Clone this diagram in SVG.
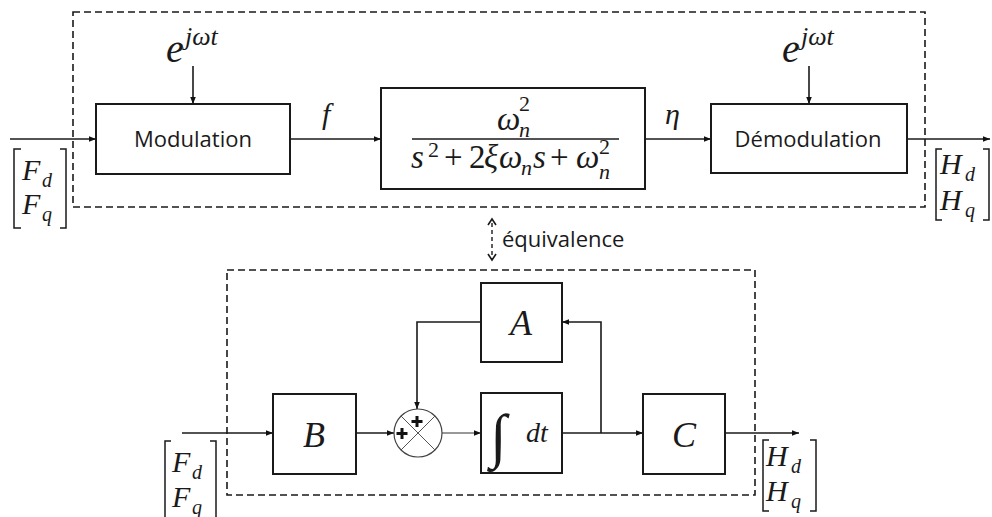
<svg xmlns="http://www.w3.org/2000/svg" width="992" height="517" viewBox="0 0 992 517">
<defs>
<marker id="ah" viewBox="0 0 10 10" refX="10" refY="5" markerWidth="7" markerHeight="7" markerUnits="userSpaceOnUse" orient="auto"><path d="M0,1 L10,5 L0,9 Z" fill="#111"/></marker>
</defs>
<style>
.box{fill:#fff;stroke:#1a1a1a;stroke-width:2}
.dash{fill:none;stroke:#1a1a1a;stroke-width:1.6;stroke-dasharray:7,4}
.ln{fill:none;stroke:#1a1a1a;stroke-width:1.6}
.thin{fill:none;stroke:#333;stroke-width:1}
.lbl{font-family:'Open Sans',sans-serif;font-size:22px;fill:#1a1a1a}
.br{fill:none;stroke:#1a1a1a;stroke-width:1.5}
.i{font-style:italic}
.n{font-style:normal}
</style>
<rect width="992" height="517" fill="#fff"/>

<g id="frames">
<rect class="dash" x="73" y="12" width="852" height="195"/>
<rect class="dash" x="227" y="270" width="528" height="225"/>
</g>

<g id="connectors">
<line class="ln" x1="10" y1="139" x2="96" y2="139" marker-end="url(#ah)"/>
<line class="ln" x1="193" y1="66" x2="193" y2="104" marker-end="url(#ah)"/>
<line class="ln" x1="290" y1="139" x2="381" y2="139" marker-end="url(#ah)"/>
<line class="ln" x1="645" y1="139" x2="711" y2="139" marker-end="url(#ah)"/>
<line class="ln" x1="809" y1="66" x2="809" y2="104" marker-end="url(#ah)"/>
<line class="ln" x1="907" y1="139" x2="990" y2="139" marker-end="url(#ah)" stroke="#444"/>
<line x1="492" y1="223" x2="492" y2="256" stroke="#1a1a1a" stroke-width="1.4" stroke-dasharray="4,3"/>
<path d="M488,225 L492,219 L496,225 M488,254 L492,260 L496,254" fill="none" stroke="#1a1a1a" stroke-width="1.6"/>
<line class="ln" x1="182" y1="433" x2="273" y2="433" marker-end="url(#ah)"/>
<line class="ln" x1="356" y1="433" x2="394" y2="433" marker-end="url(#ah)"/>
<line class="thin" x1="442" y1="433" x2="481" y2="433" marker-end="url(#ah)"/>
<line class="ln" x1="562" y1="433" x2="643" y2="433" marker-end="url(#ah)"/>
<polyline class="ln" points="601,433 601,322 562,322" marker-end="url(#ah)"/>
<polyline class="ln" points="481,322 417,322 417,409" marker-end="url(#ah)"/>
<line class="ln" x1="725" y1="433" x2="799" y2="433" marker-end="url(#ah)"/>
</g>

<g font-family="Liberation Serif, DejaVu Serif, serif" fill="#1a1a1a">
<g id="modulation">
<rect class="box" x="96" y="104" width="194" height="70"/>
<text class="lbl" x="193" y="147" text-anchor="middle">Modulation</text>
</g>
<g id="exp1">
<text class="i" x="166" y="62" font-size="40">e<tspan x="185" y="45" font-size="26">jωt</tspan></text>
</g>

<g id="transfer">
<rect class="box" x="381" y="88" width="264" height="101"/>
<line x1="412" y1="139" x2="619" y2="139" stroke="#1a1a1a" stroke-width="1.4"/>
<text class="i" x="497" y="130" font-size="33">ω<tspan class="n" x="519" y="111" font-size="22">2</tspan><tspan x="519" y="137" font-size="22">n</tspan></text>
<text class="i" x="411" y="168" font-size="33">s<tspan class="n" x="428" y="157" font-size="22">2</tspan><tspan class="n" x="444" y="168">+</tspan><tspan class="n" x="469" y="168">2</tspan><tspan x="484" y="168">ξ</tspan><tspan x="499" y="168">ω</tspan><tspan x="521" y="175" font-size="22">n</tspan><tspan x="533" y="168">s</tspan><tspan class="n" x="550" y="168">+</tspan><tspan x="576" y="168">ω</tspan><tspan class="n" x="599" y="154" font-size="22">2</tspan><tspan x="599" y="179" font-size="22">n</tspan></text>
</g>
<g id="lbl-f"><text class="i" x="322" y="124" font-size="30">f</text></g>
<g id="lbl-eta"><text class="i" x="665" y="124" font-size="30">η</text></g>

<g id="demodulation">
<rect class="box" x="711" y="104" width="196" height="69"/>
<text class="lbl" x="808" y="147" text-anchor="middle">Démodulation</text>
</g>
<g id="exp2">
<text class="i" x="782" y="62" font-size="40">e<tspan x="801" y="45" font-size="26">jωt</tspan></text>
</g>

<g id="input-top">
<path class="br" d="M21,149 H14 V228 H21 M60,149 H66 V228 H60"/>
<text class="i" x="22" y="180" font-size="30">F<tspan x="42" y="187" font-size="20">d</tspan><tspan x="22" y="214">F</tspan><tspan x="42" y="221" font-size="20">q</tspan></text>
</g>
<g id="output-top">
<path class="br" d="M942,149 H936 V220 H942 M983,149 H989 V220 H983"/>
<text class="i" x="940" y="174" font-size="30">H<tspan x="965" y="181" font-size="20">d</tspan><tspan x="940" y="210">H</tspan><tspan x="965" y="217" font-size="20">q</tspan></text>
</g>

<g id="equivalence">
<text class="lbl" x="502" y="247">équivalence</text>
</g>

<g id="B">
<rect class="box" x="273" y="394" width="83" height="80"/>
<text class="i" x="314" y="447" font-size="36" text-anchor="middle">B</text>
</g>
<g id="sum">
<circle cx="418" cy="433" r="24" fill="#fff" stroke="#444" stroke-width="1.2"/>
<line x1="401" y1="416" x2="435" y2="450" stroke="#555" stroke-width="1"/>
<line x1="435" y1="416" x2="401" y2="450" stroke="#555" stroke-width="1"/>
<path d="M417,416 V427 M411.5,421.5 H422.5 M402,428 V439 M396.5,433.5 H407.5" stroke="#111" stroke-width="3"/>
</g>
<g id="A">
<rect class="box" x="481" y="283" width="81" height="79"/>
<text class="i" x="521" y="335" font-size="36" text-anchor="middle">A</text>
</g>
<g id="integral">
<rect class="box" x="481" y="393" width="81" height="80"/>
<text class="n" x="490" y="456" font-size="60">∫</text>
<text class="i" x="526" y="442" font-size="28">dt</text>
</g>
<g id="C">
<rect class="box" x="643" y="394" width="82" height="80"/>
<text class="i" x="684" y="447" font-size="36" text-anchor="middle">C</text>
</g>

<g id="input-bottom">
<path class="br" d="M171,441 H165 V520 H171 M210,441 H216 V520 H210"/>
<text class="i" x="172" y="472" font-size="30">F<tspan x="192" y="479" font-size="20">d</tspan><tspan x="172" y="507">F</tspan><tspan x="192" y="514" font-size="20">q</tspan></text>
</g>
<g id="output-bottom">
<path class="br" d="M769,440 H763 V511 H769 M810,440 H816 V511 H810"/>
<text class="i" x="766" y="466" font-size="30">H<tspan x="791" y="473" font-size="20">d</tspan><tspan x="766" y="501">H</tspan><tspan x="791" y="508" font-size="20">q</tspan></text>
</g>
</g>
</svg>
